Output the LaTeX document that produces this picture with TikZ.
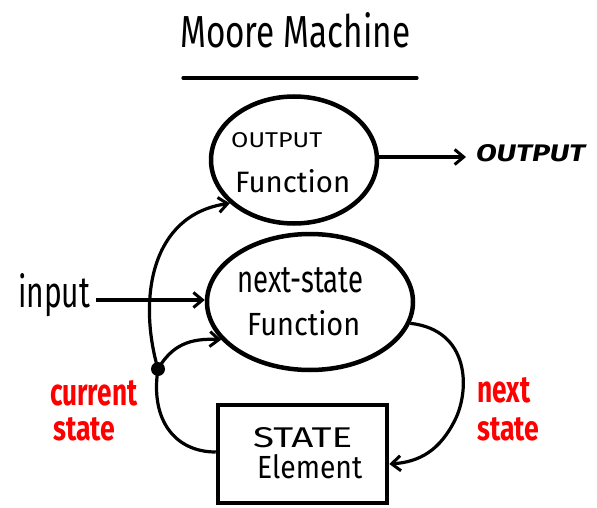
\documentclass[tikz,border=0pt]{standalone}
\usepackage{fontspec}
\setmainfont{Fira Sans}
\usetikzlibrary{shapes.geometric,arrows.meta}
\newcommand\fitt[3]{\resizebox{#1pt}{#2pt}{#3}}
\begin{document}
\begin{tikzpicture}[x=1pt,y=-1pt,
  fn/.style={draw,ellipse,line width=4.5pt,inner sep=0pt},
  box/.style={draw,rectangle,line width=4.5pt,inner sep=0pt},
  txt/.style={inner sep=0pt,anchor=base west},
  conn/.style={line width=3.2pt,-{Straight Barb[length=9pt,width=15pt,line width=3pt]}},
  plain/.style={line width=3.2pt},
  redt/.style={inner sep=0pt,anchor=base west,text=red,font=\bfseries}]
\useasboundingbox (0,0) rectangle (597,508);
% title
\node[txt] (title) at (180,48) {\fitt{230}{35}{Moore Machine}};
\coordinate (ul1) at (183,78);
\coordinate (ul2) at (417,78);
\draw[line width=3.2pt,line cap=round] (ul1) -- (ul2);
% shapes
\node[fn,minimum width=166pt,minimum height=127pt] (out) at (294,160) {};
\node[fn,minimum width=206pt,minimum height=136pt] (ns) at (310,302) {};
\node[box,minimum width=169pt,minimum height=98pt] (st) at (302.5,454) {};
% texts
\node[txt] (o1) at (231,148) {\fitt{91}{15}{OUTPUT}};
\node[txt] (o2) at (235,192) {\fitt{115}{23}{Function}};
\node[txt] (n1) at (237,292) {\fitt{126}{25}{next-state}};
\node[txt] (n2) at (247,335) {\fitt{113}{25}{Function}};
\node[txt] (s1) at (253,447) {\fitt{99}{20}{STATE}};
\node[txt] (s2) at (257,478) {\fitt{105}{24}{Element}};
\node[txt,font=\bfseries] (outtxt) at (476,162) {\fitt{109}{17}{\itshape OUTPUT}};
\node[txt] (in) at (18,307) {\fitt{72}{34}{input}};
\node[redt] (c1) at (50,405) {\fitt{87}{25}{current}};
\node[redt] (c2) at (53,440) {\fitt{62}{23}{state}};
\node[redt] (x1) at (477,402) {\fitt{53}{25}{next}};
\node[redt] (x2) at (477,440) {\fitt{62}{23}{state}};
% connectors
\coordinate (dotc) at (158,369);
\fill (dotc) circle (7pt);
\coordinate (ins) at (96,300);
\draw[conn] (ins) -- (ns.west |- ins);
\coordinate (outend) at (466,157);
\draw[conn] (out.east |- outend) -- (outend);
\draw[conn] (dotc) .. controls (138,300) and (150,215) .. (out.214);
\draw[conn] (dotc) .. controls (172,345) and (190,338) .. (ns.203);
\draw[plain] (dotc) .. controls (150,420) and (175,452) .. (st.west |- 0,452);
\draw[conn] (ns.-12) .. controls (470,330) and (470,390) .. (455,420) .. controls (440,450) and (420,462) .. (st.east |- 0,464);
\end{tikzpicture}
\end{document}
